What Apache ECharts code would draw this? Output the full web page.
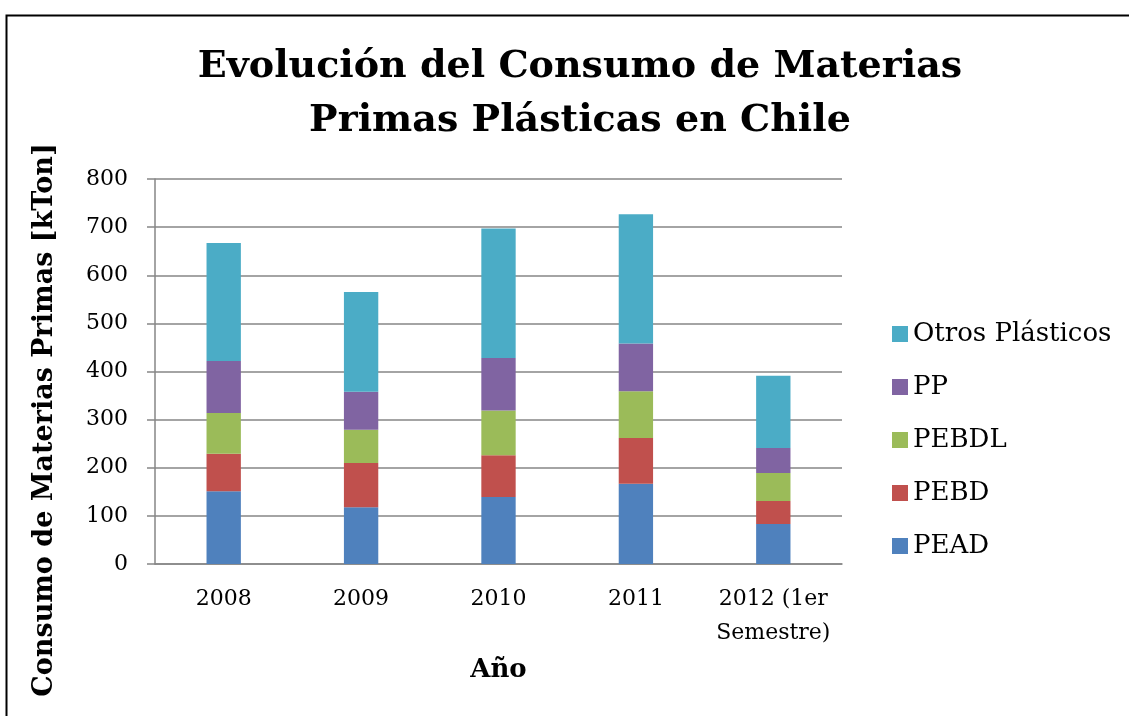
<!DOCTYPE html>
<html>
<head>
<meta charset="utf-8">
<title>Evolución del Consumo de Materias Primas Plásticas en Chile</title>
<script src="https://cdn.jsdelivr.net/npm/echarts@6/dist/echarts.min.js"></script>
<style>
    html, body { margin: 0; padding: 0; background: #ffffff; }
    #chart { width: 1129px; height: 716px; }
</style>
</head>
<body>
<div id="chart"></div>
<script>
    // datos (kTon)
    var years = ['2008', '2009', '2010', '2011', '2012 (1er\nSemestre)'];
    var pead = [151, 118, 139, 167, 83];
    var pebd = [78, 92, 87, 95, 48];
    var pebdl = [85, 69, 93, 97, 58];
    var pp = [108, 79, 109, 99, 52];
    var otros = [245, 207, 269, 269, 150];
    var legendOrder = ['Otros Plásticos', 'PP', 'PEBDL', 'PEBD', 'PEAD'];

    var font = 'DejaVu Serif';
    var gridColor = '#868686';

    var chart = echarts.init(document.getElementById('chart'));

    function serie(name, data, color) {
        return {
            name: name,
            type: 'bar',
            stack: 'total',
            barWidth: '25%',
            data: data,
            itemStyle: { color: color },
            emphasis: { disabled: true }
        };
    }

    var option = {
        animation: false,
        textStyle: { fontFamily: font },
        title: {
            text: 'Evolución del Consumo de Materias\nPrimas Plásticas en Chile',
            left: 575,
            top: 35,
            textAlign: 'center',
            textStyle: {
                fontFamily: font,
                fontSize: 38,
                fontWeight: 'bold',
                color: '#000',
                lineHeight: 54
            }
        },
        legend: {
            orient: 'vertical',
            left: 887,
            top: 316,
            icon: 'rect',
            itemWidth: 16,
            itemHeight: 16,
            itemGap: 27,
            data: legendOrder,
            textStyle: { fontFamily: font, fontSize: 26, color: '#000', lineHeight: 26 }
        },
        grid: { left: 155, right: 287, top: 179, bottom: 152 },
        xAxis: {
            type: 'category',
            data: years,
            name: 'Año',
            nameLocation: 'middle',
            nameGap: 93,
            nameTextStyle: { fontFamily: font, fontSize: 26, fontWeight: 'bold', color: '#000' },
            axisLine: { lineStyle: { color: gridColor, width: 1.5 } },
            axisTick: { show: false },
            axisLabel: {
                fontFamily: font,
                fontSize: 22,
                color: '#000',
                lineHeight: 34,
                margin: 18,
                interval: 0
            }
        },
        yAxis: {
            type: 'value',
            min: 0,
            max: 800,
            interval: 100,
            axisLine: { show: true, lineStyle: { color: gridColor, width: 1.5 } },
            axisTick: { show: true, length: 8, lineStyle: { color: gridColor, width: 1.5 } },
            splitLine: { lineStyle: { color: gridColor, width: 1.5 } },
            axisLabel: { fontFamily: font, fontSize: 22, color: '#000', margin: 27 }
        },
        graphic: [
            {
                type: 'rect',
                left: 4,
                top: 13,
                shape: { width: 1300, height: 900 },
                style: { fill: 'none', stroke: '#000', lineWidth: 2 },
                silent: true
            },
            {
                type: 'text',
                x: 45,
                y: 420,
                rotation: Math.PI / 2,
                style: {
                    text: 'Consumo de Materias Primas [kTon]',
                    fontFamily: font,
                    fontSize: 27,
                    fontWeight: 'bold',
                    fill: '#000',
                    textAlign: 'center',
                    textVerticalAlign: 'middle'
                },
                silent: true
            }
        ],
        series: [
            serie('PEAD', pead, '#4F81BD'),
            serie('PEBD', pebd, '#C0504D'),
            serie('PEBDL', pebdl, '#9BBB59'),
            serie('PP', pp, '#8064A2'),
            serie('Otros Plásticos', otros, '#4BACC6')
        ]
    };
    chart.setOption(option);

    window.addEventListener('resize', function () {
        chart.resize();
    });
</script>
</body>
</html>
